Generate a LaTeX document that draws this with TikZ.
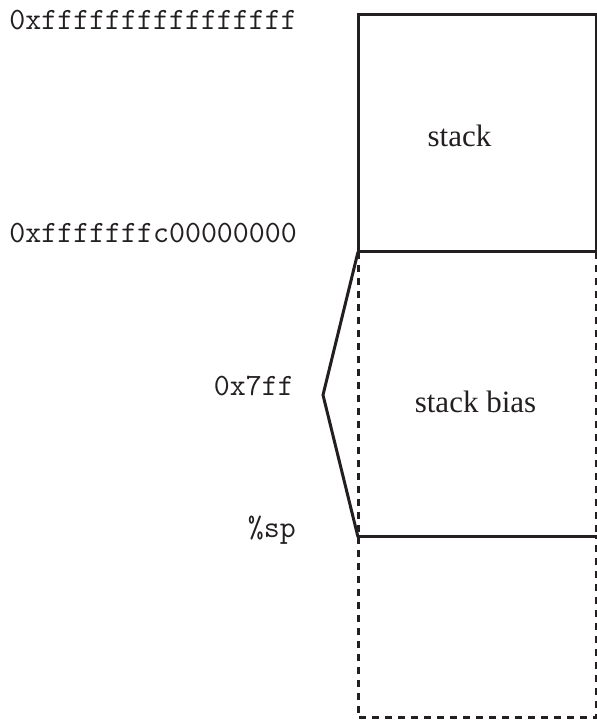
\documentclass[tikz,border=0pt]{standalone}
\usepackage{fontspec}
\setmainfont{Liberation Serif}
\definecolor{ink}{HTML}{231F20}
\begin{document}
\begin{tikzpicture}[x=1pt,y=1pt,
  solidline/.style={draw=ink,line width=3pt,line cap=rect},
  dashline/.style={draw=ink,line width=3pt,dash pattern=on 7pt off 6pt},
  addr/.style={font=\fontsize{31}{34}\ttfamily,text=ink,inner sep=0pt,anchor=base east},
  region/.style={font=\fontsize{31}{34}\selectfont,text=ink,inner sep=0pt,anchor=base}]
\useasboundingbox (0,0) rectangle (597,721);
% corners
\coordinate (tl) at (358,706);
\coordinate (tr) at (596,706);
\coordinate (ml) at (358,469);
\coordinate (mr) at (596,469);
\coordinate (ll) at (358,184);
\coordinate (lr) at (596,184);
\coordinate (bl) at (358,3);
\coordinate (br) at (596,3);
\coordinate (tip) at (323,326);
% stack region
\draw[solidline] (ml) -- (tl) -- (tr) -- (mr) -- cycle;
% bias region
\draw[dashline] (ml) -- (ll);
\draw[dashline] (mr) -- (lr);
\draw[solidline] (ll) -- (lr);
% below
\draw[dashline] (ll) -- (bl) -- (br) -- (lr);
% bracket
\draw[draw=ink,line width=3pt,line join=miter] (ml) -- (tip) -- (ll);
% texts
\node[region] (stk) at (459.5,574) {stack};
\node[region] (bias) at (475.5,308) {stack bias};
\node[addr] (a1) at (297,691) {0xffffffffffffffff};
\node[addr] (a2) at (297,478) {0xfffffffc00000000};
\node[addr] (a3) at (294,325) {0x7ff};
\node[addr] (a4) at (296,183) {\%sp};
\end{tikzpicture}
\end{document}
